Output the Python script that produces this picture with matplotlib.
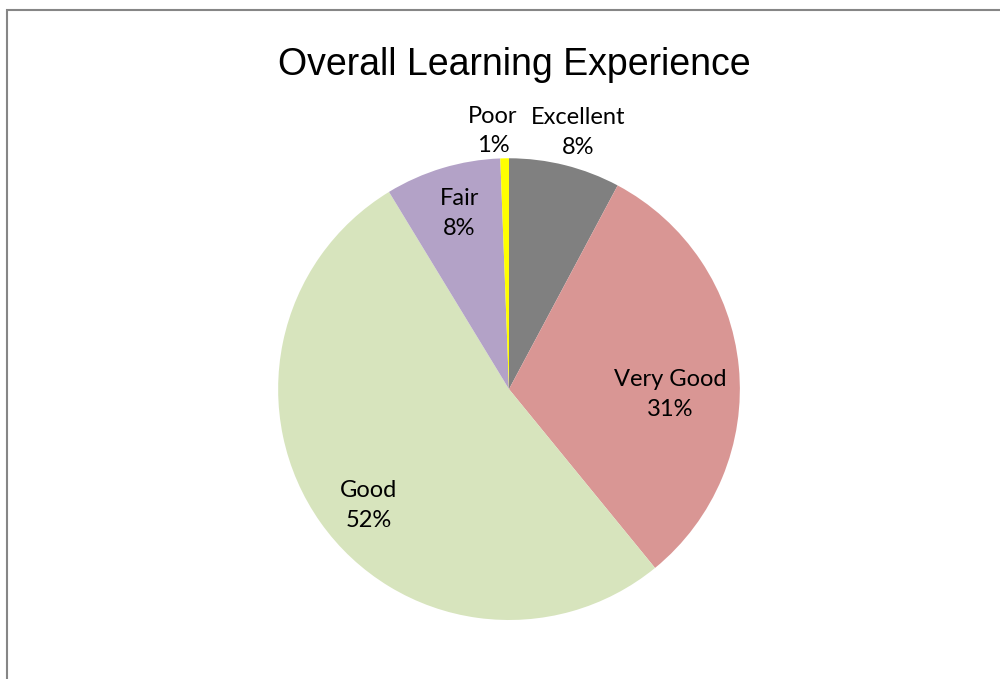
import numpy as np
import matplotlib.pyplot as plt
from matplotlib.patches import Rectangle

# %%
categories = ['Excellent', 'Very Good', 'Good', 'Fair', 'Poor']
shares = [7.8, 31.3, 52.2, 8.1, 0.6]
pct_labels = ['8%', '31%', '52%', '8%', '1%']
colors = ['#808080', '#D99694', '#D7E4BD', '#B3A2C7', '#FFFF00']
# radial distance of each label (in pie radii) and a small angular nudge
label_dist = [1.15, 0.70, 0.79, 0.79, 1.12]
label_nudge = [-1, -7.5, 4.4, -1, 2.5]

# %%
fig = plt.figure(figsize=(10, 6.79), dpi=100)
fig.patches.append(Rectangle((0.007, -0.05), 1.1, 0.036 + 1.0, transform=fig.transFigure,
                             fill=False, edgecolor='#868686', linewidth=1.5))

ax = fig.add_axes([0.278, 0.0869, 0.462, 0.680])
wedges, _ = ax.pie(shares, colors=colors, startangle=90, counterclock=False,
                   wedgeprops=dict(linewidth=0))
ax.set_xlim(-1, 1)
ax.set_ylim(-1, 1)
ax.set_aspect('equal')

for w, name, pct, d, nudge in zip(wedges, categories, pct_labels, label_dist, label_nudge):
    ang = np.deg2rad((w.theta1 + w.theta2) / 2 + nudge)
    ax.text(d * np.cos(ang), d * np.sin(ang), f'{name}\n{pct}', ha='center', va='center',
            fontsize=17, family='Lato', linespacing=1.5)

fig.text(0.514, 0.905, 'Overall Learning Experience', ha='center', va='center',
         fontsize=27, family='Liberation Sans')

fig.savefig('out.png', dpi=100)
